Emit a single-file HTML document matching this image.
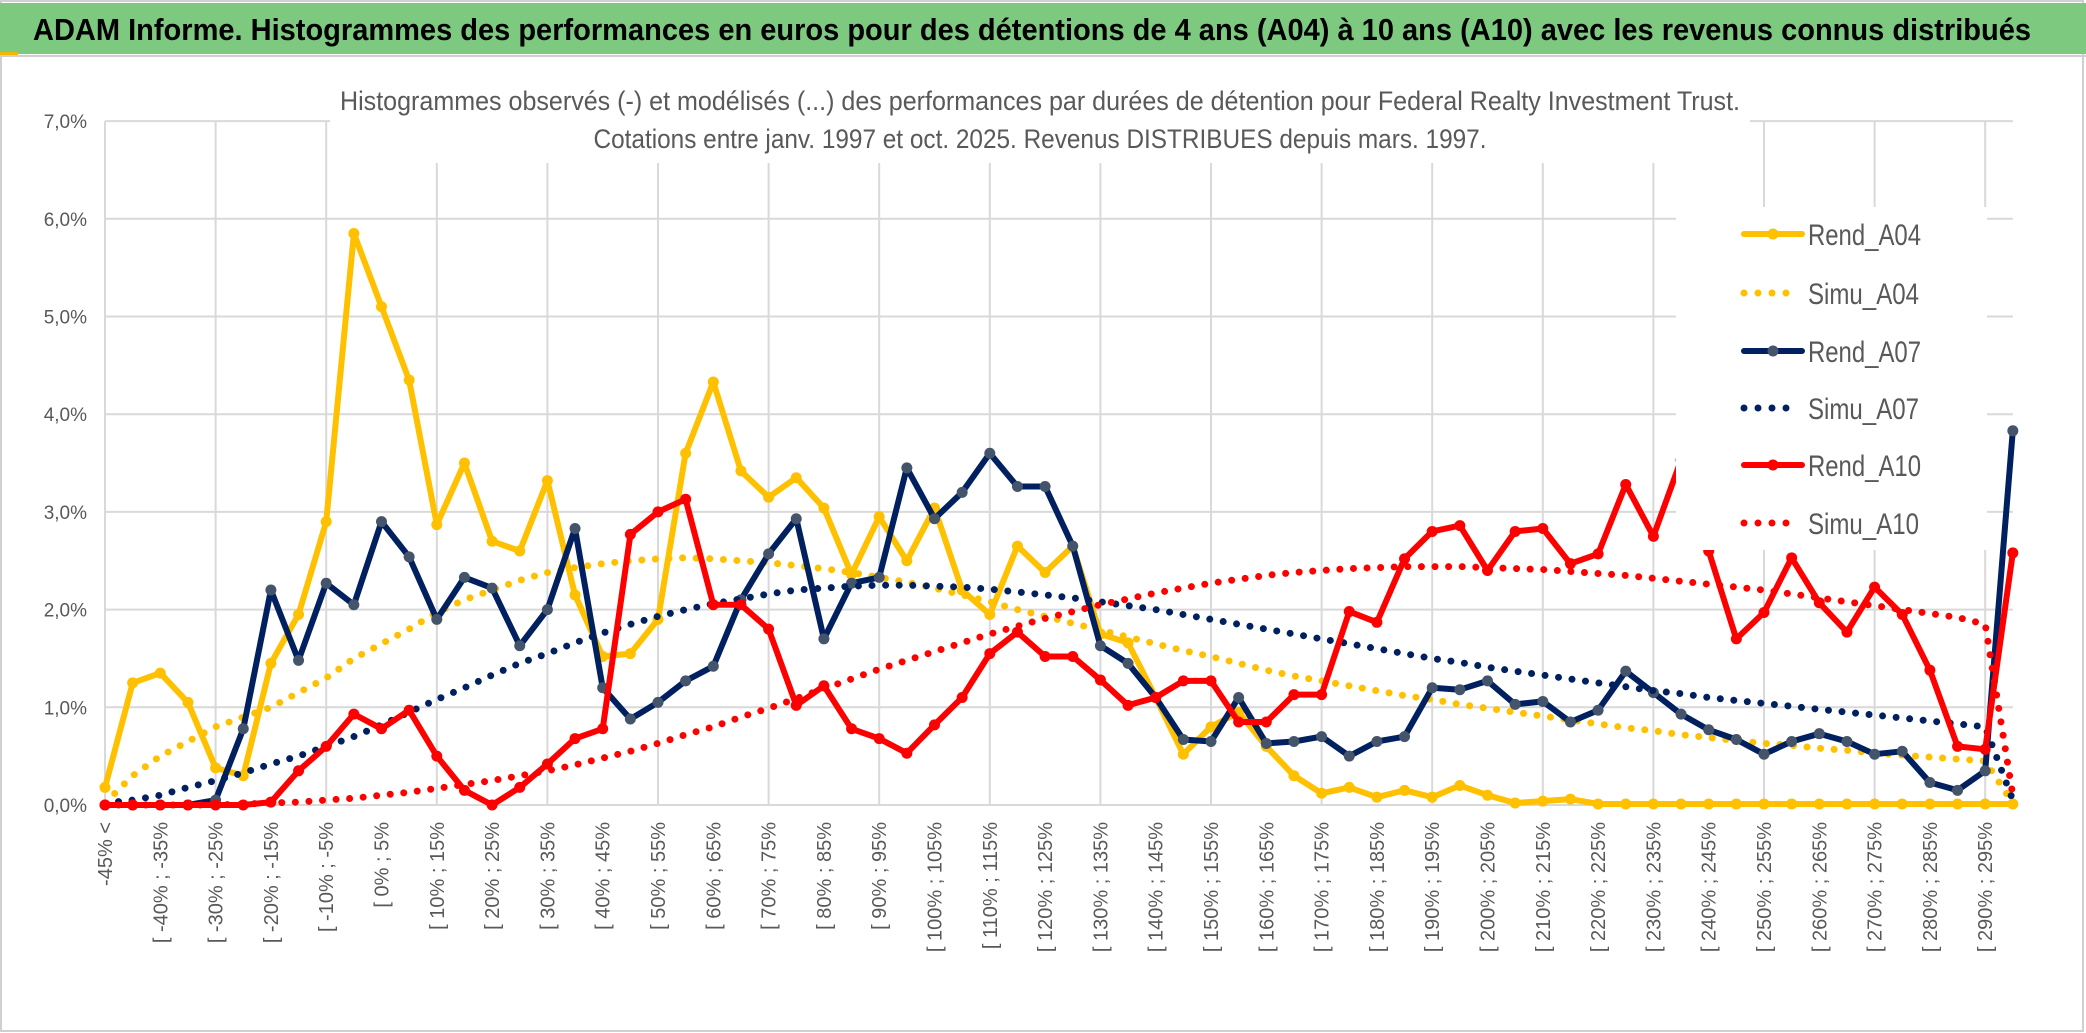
<!DOCTYPE html>
<html><head><meta charset="utf-8"><title>ADAM Informe - Histogrammes</title>
<style>
html,body{margin:0;padding:0;background:#fff;}
svg{display:block;}
text{font-family:"Liberation Sans Narrow","Liberation Sans",sans-serif;}
</style></head>
<body>
<svg id="chart" width="2086" height="1033" viewBox="0 0 2086 1033" xmlns="http://www.w3.org/2000/svg">
  <rect x="0" y="0" width="2086" height="1033" fill="#fff"/>
  <rect x="1" y="1" width="2082" height="1030" fill="none" stroke="#d0d0d0" stroke-width="2"/>
  <rect x="0" y="3" width="2086" height="51" fill="#7dc97f"/>
  <rect x="0" y="52" width="18" height="4" fill="#f0b800"/>
  <line x1="0" y1="56" x2="2086" y2="56" stroke="#cfcfcf" stroke-width="2"/>
  <text x="33" y="40" font-size="31" font-weight="bold" fill="#000" textLength="1998" lengthAdjust="spacingAndGlyphs">ADAM Informe. Histogrammes des performances en euros pour des détentions de 4 ans (A04) à 10 ans (A10) avec les revenus connus distribués</text>
  <g id="grid"></g>
  <rect x="330" y="62" width="1420" height="101" fill="#fff"/>
  <text x="1040" y="110" font-size="27" fill="#595959" text-anchor="middle" textLength="1400" lengthAdjust="spacingAndGlyphs">Histogrammes observés (-) et modélisés (...) des performances par durées de détention pour Federal Realty Investment Trust.</text>
  <text x="1040" y="148" font-size="27" fill="#595959" text-anchor="middle" textLength="893" lengthAdjust="spacingAndGlyphs">Cotations entre janv. 1997 et oct. 2025. Revenus DISTRIBUES depuis mars. 1997.</text>
  <g id="yaxis"></g>
  <g id="xaxis"></g>
  <g id="series"></g>
  <g id="legend"></g>
</svg>
<script>
const rendA04 = [0.18,1.25,1.35,1.05,0.38,0.3,1.45,1.95,2.9,5.85,5.1,4.35,2.87,3.5,2.7,2.6,3.32,2.15,1.52,1.55,1.9,3.6,4.33,3.42,3.15,3.35,3.04,2.36,2.95,2.5,3.04,2.2,1.95,2.65,2.38,2.65,1.75,1.66,1.1,0.52,0.8,0.95,0.6,0.3,0.12,0.18,0.08,0.15,0.08,0.2,0.1,0.02,0.04,0.06,0.01,0.01,0.01,0.01,0.01,0.01,0.01,0.01,0.01,0.01,0.01,0.01,0.01,0.01,0.01,0.01];
const simuA04 = [0.02,0.3,0.5,0.65,0.8,0.9,1.0,1.15,1.3,1.5,1.65,1.8,1.97,2.1,2.2,2.3,2.38,2.43,2.47,2.5,2.52,2.53,2.52,2.5,2.48,2.45,2.42,2.38,2.33,2.28,2.22,2.15,2.08,2.0,1.93,1.86,1.79,1.72,1.65,1.58,1.52,1.45,1.38,1.32,1.27,1.22,1.17,1.12,1.08,1.03,0.99,0.95,0.91,0.87,0.83,0.79,0.76,0.72,0.69,0.66,0.63,0.61,0.58,0.56,0.53,0.51,0.49,0.47,0.45,0.02];
const rendA07 = [0,0,0,0,0.05,0.78,2.2,1.48,2.27,2.05,2.9,2.54,1.9,2.33,2.22,1.63,2.0,2.83,1.2,0.88,1.05,1.27,1.42,2.1,2.57,2.93,1.7,2.27,2.33,3.45,2.93,3.2,3.6,3.26,3.26,2.65,1.63,1.45,1.1,0.67,0.65,1.1,0.63,0.65,0.7,0.5,0.65,0.7,1.2,1.18,1.27,1.03,1.06,0.85,0.97,1.37,1.15,0.93,0.77,0.67,0.52,0.65,0.73,0.65,0.52,0.55,0.23,0.15,0.35,3.83];
const simuA07 = [0.02,0.05,0.1,0.18,0.25,0.33,0.42,0.5,0.6,0.7,0.82,0.95,1.08,1.2,1.33,1.45,1.55,1.66,1.76,1.85,1.93,2.0,2.06,2.11,2.16,2.2,2.22,2.24,2.25,2.25,2.24,2.23,2.21,2.18,2.15,2.12,2.08,2.04,2.0,1.95,1.9,1.85,1.8,1.75,1.7,1.65,1.6,1.55,1.5,1.46,1.41,1.37,1.33,1.29,1.25,1.21,1.17,1.14,1.1,1.07,1.04,1.01,0.98,0.95,0.92,0.89,0.86,0.83,0.8,0.05];
const rendA10 = [0,0,0,0,0,0,0.03,0.35,0.6,0.93,0.78,0.97,0.5,0.15,0.0,0.18,0.42,0.68,0.78,2.77,3.0,3.13,2.05,2.05,1.8,1.02,1.22,0.78,0.68,0.53,0.82,1.1,1.55,1.77,1.52,1.52,1.28,1.02,1.1,1.27,1.27,0.85,0.85,1.13,1.13,1.98,1.87,2.52,2.8,2.86,2.4,2.8,2.83,2.47,2.57,3.28,2.75,3.53,2.6,1.7,1.97,2.53,2.07,1.77,2.23,1.95,1.38,0.6,0.57,2.58];
const simuA10 = [0,0,0,0,0,0.01,0.02,0.03,0.05,0.07,0.1,0.13,0.17,0.21,0.25,0.3,0.35,0.41,0.48,0.55,0.63,0.72,0.8,0.9,0.99,1.09,1.19,1.29,1.39,1.48,1.57,1.66,1.75,1.83,1.91,1.98,2.05,2.11,2.17,2.22,2.27,2.31,2.35,2.38,2.4,2.42,2.43,2.44,2.44,2.44,2.43,2.42,2.41,2.39,2.37,2.35,2.32,2.29,2.26,2.23,2.2,2.16,2.12,2.08,2.04,2.0,1.96,1.92,1.85,0.1];
const yTicks = [0,1,2,3,4,5,6,7];
const yTickLabels = ["0,0%","1,0%","2,0%","3,0%","4,0%","5,0%","6,0%","7,0%"];
const seriesNames = ["Rend_A04","Simu_A04","Rend_A07","Simu_A07","Rend_A10","Simu_A10"];

const NS = "http://www.w3.org/2000/svg";
const N = rendA04.length;
const X0 = 105, DX = 27.65, Y0 = 805, DY = 97.7;
function xs(i){ return X0 + DX*i; }
function ys(v){ return Y0 - DY*v; }
function mk(tag, attrs, parent){
  const e = document.createElementNS(NS, tag);
  for (const k in attrs) e.setAttribute(k, attrs[k]);
  parent.appendChild(e);
  return e;
}
function catLabel(i){
  if (i === 0) return "-45% <";
  const s = -45 + 5*(i-1);
  return "[ " + s + "% ; " + (s+5) + "%";
}

const grid = document.getElementById('grid');
yTicks.forEach(t => {
  const l = mk('line', {x1:X0, x2:xs(N-1), y1:ys(t), y2:ys(t), stroke:'#d9d9d9', 'stroke-width':2}, grid);
  
  
});
for (let i = 0; i < N; i += 4) {
  const l = mk('line', {x1:xs(i), x2:xs(i), y1:ys(7), y2:Y0, stroke:'#d9d9d9', 'stroke-width':2}, grid);
  
  
}

const yax = document.getElementById('yaxis');
yTicks.forEach((t, k) => {
  const tx = mk('text', {x:87, y:ys(t)+7, 'font-size':19, fill:'#595959', 'text-anchor':'end'}, yax);
  tx.textContent = yTickLabels[k];
  
  
});

const xax = document.getElementById('xaxis');
for (let i = 0; i < N; i += 2) {
  const x = xs(i) + 7, y = 822;
  const tx = mk('text', {x:x, y:y, 'font-size':20, fill:'#595959', 'text-anchor':'end', transform:'rotate(-90 '+x+' '+y+')'}, xax);
  tx.textContent = catLabel(i);
  
  
}

const sg = document.getElementById('series');
function pts(arr){ return arr.map((v,i)=> xs(i).toFixed(1)+','+ys(v).toFixed(1)).join(' '); }
function solid(arr, color, mcolor, name){
  const g = mk('g', {}, sg);
  
  
  const pl = mk('polyline', {points:pts(arr), fill:'none', stroke:color, 'stroke-width':6, 'stroke-linejoin':'round', 'stroke-linecap':'round'}, g);
  
  
  arr.forEach((v,i) => {
    const c = mk('circle', {cx:xs(i), cy:ys(v), r:5.5, fill:mcolor}, g);
    
    
  });
}
function dotted(arr, color, name){
  const pl = mk('polyline', {points:pts(arr), fill:'none', stroke:color, 'stroke-width':7, 'stroke-dasharray':'0 13.6', 'stroke-linecap':'round', 'stroke-linejoin':'round'}, sg);
  
  
}
solid(rendA04, '#ffc000', '#ffc000', 'rend-a04');
dotted(simuA04, '#ffc000', 'simu-a04');
solid(rendA07, '#002060', '#44546a', 'rend-a07');
dotted(simuA07, '#002060', 'simu-a07');
solid(rendA10, '#ff0000', '#ff0000', 'rend-a10');
dotted(simuA10, '#ff0000', 'simu-a10');

const lg = document.getElementById('legend');
const lbox = mk('rect', {x:1676, y:207, width:311, height:343, fill:'#fff'}, lg);


const legColors = ['#ffc000','#ffc000','#002060','#002060','#ff0000','#ff0000'];
const legMarker = ['#ffc000',null,'#44546a',null,'#ff0000',null];
const legY = [234,293,351,408,465,523];
seriesNames.forEach((nm, k) => {
  const g = mk('g', {}, lg);
  
  
  const y = legY[k];
  if (legMarker[k]) {
    mk('line', {x1:1744, x2:1802, y1:y, y2:y, stroke:legColors[k], 'stroke-width':6, 'stroke-linecap':'round'}, g);
    mk('circle', {cx:1773, cy:y, r:5.5, fill:legMarker[k]}, g);
  } else {
    mk('line', {x1:1744, x2:1800, y1:y, y2:y, stroke:legColors[k], 'stroke-width':7, 'stroke-dasharray':'0 14', 'stroke-linecap':'round'}, g);
  }
  const t = mk('text', {x:1808, y:y+11, 'font-size':30, fill:'#595959', textLength: (nm.startsWith('Rend') ? 113 : 111), lengthAdjust:'spacingAndGlyphs'}, g);
  t.textContent = nm;
});
</script>
</body></html>
